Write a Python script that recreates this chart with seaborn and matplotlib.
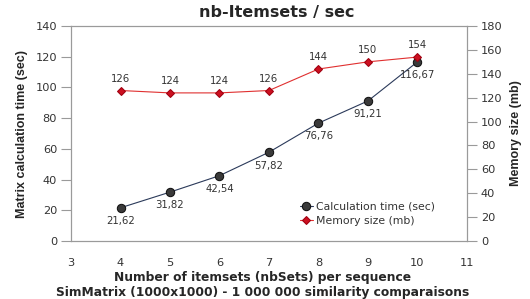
import pandas as pd
import matplotlib
matplotlib.use("Agg")
import matplotlib.pyplot as plt
import seaborn as sns

# Données
nb_sets = [4, 5, 6, 7, 8, 9, 10]
calc_time = [21.62, 31.82, 42.54, 57.82, 76.76, 91.21, 116.67]
memory_mb = [126, 124, 124, 126, 144, 150, 154]

sns.set_style("white")
plt.rcParams['font.family'] = ['DejaVu Sans']

df = pd.DataFrame({"nb_sets": nb_sets, "calc": calc_time, "mem": memory_mb})

fig = plt.figure(figsize=(5.30, 2.99), dpi=100)
ax = fig.add_axes([0.134, 0.194, 0.747, 0.719])
ax2 = ax.twinx()

grey = "#9a9a9a"
txt = "#333333"

sns.lineplot(data=df, x="nb_sets", y="calc", ax=ax, color="#2b3a5a", linewidth=0.8,
             marker="o", markersize=6, markerfacecolor="#3a3a3a",
             markeredgecolor="#111111", label="Calculation time (sec)", legend=False)
sns.lineplot(data=df, x="nb_sets", y="mem", ax=ax2, color="#e03030", linewidth=0.8,
             marker="D", markersize=4.5, markerfacecolor="#cc1020",
             markeredgecolor="#a00010", label="Memory size (mb)", legend=False)

for x, y in zip(nb_sets, calc_time):
    ax.annotate(f"{y:.2f}".replace(".", ","), (x, y), xytext=(0, -6),
                textcoords="offset points", ha="center", va="top", fontsize=7.3, color=txt)
for x, y in zip(nb_sets, memory_mb):
    ax2.annotate(f"{y}", (x, y), xytext=(0, 5),
                 textcoords="offset points", ha="center", va="bottom", fontsize=7.3, color=txt)

ax.set_xlim(3, 11)
ax.set_ylim(0, 140)
ax.set_yticks(range(0, 141, 20))
ax.set_xticks(range(3, 12))
ax2.set_ylim(0, 180)
ax2.set_yticks(range(0, 181, 20))

for a in (ax, ax2):
    for s in a.spines.values():
        s.set_color(grey)
        s.set_linewidth(0.8)
    a.tick_params(colors=grey, labelcolor=txt, labelsize=8.2, length=7, width=0.8,
                  direction="out", pad=3)
ax.tick_params(axis="x", pad=5)

ax.set_xlabel("")
ax.set_ylabel("Matrix calculation time (sec)", fontsize=9, fontweight="bold",
              family="Liberation Sans", labelpad=5)
ax2.set_ylabel("Memory size (mb)", fontsize=9, fontweight="bold",
               family="Liberation Sans", labelpad=5)

fig.text(0.522, 0.958, "nb-Itemsets / sec", ha="center", va="center",
         fontsize=11.5, fontweight="bold")
fig.text(0.495, 0.073, "Number of itemsets (nbSets) per sequence", ha="center", va="center",
         fontsize=8.8, fontweight="bold")
fig.text(0.495, 0.022, "SimMatrix (1000x1000) - 1 000 000 similarity comparaisons",
         ha="center", va="center", fontsize=8.8, fontweight="bold")

h1, l1 = ax.get_legend_handles_labels()
h2, l2 = ax2.get_legend_handles_labels()
leg = ax2.legend(h1 + h2, l1 + l2, loc="lower right", bbox_to_anchor=(0.93, 0.05),
                 frameon=False, fontsize=7.8, handlelength=1.2, handletextpad=0.3,
                 labelspacing=0.4, borderaxespad=0)
for t in leg.get_texts():
    t.set_color(txt)

fig.savefig("out.png", dpi=100)
